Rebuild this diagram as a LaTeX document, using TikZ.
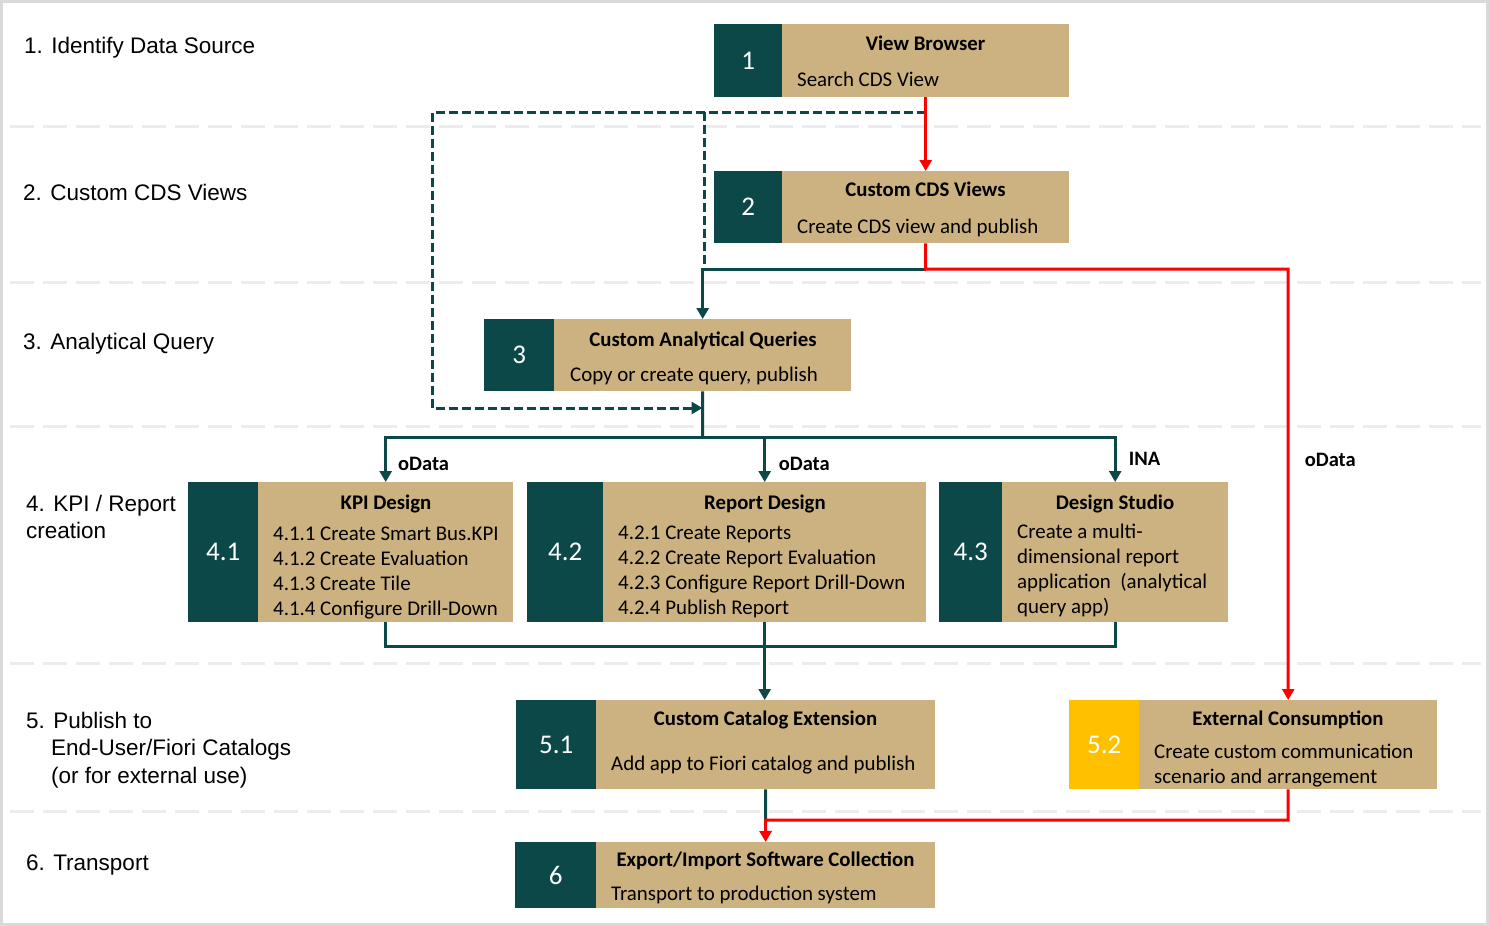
\documentclass[tikz,border=0pt]{standalone}
\usepackage{fontspec}
\setmainfont{Carlito}
\newfontfamily\arialf{Liberation Sans}
\usetikzlibrary{arrows.meta}
\definecolor{teal0}{RGB}{13,72,73}
\definecolor{tan0}{RGB}{203,178,128}
\definecolor{gold0}{RGB}{255,192,0}
\definecolor{red0}{RGB}{255,0,0}
\definecolor{sep0}{RGB}{236,236,236}
\definecolor{frame0}{RGB}{217,217,217}
\begin{document}
\begin{tikzpicture}[x=1pt,y=-1pt,
  numbox/.style={fill=teal0, text=white, inner sep=0, anchor=north west, font=\fontsize{27}{30}\selectfont},
  goldbox/.style={numbox, fill=gold0},
  tanbox/.style={fill=tan0, inner sep=0, anchor=north west},
  ttl/.style={anchor=base, font=\bfseries\fontsize{20.8}{24}\selectfont, inner sep=0},
  txt/.style={anchor=base west, font=\fontsize{20.9}{24}\selectfont, inner sep=0},
  sec/.style={anchor=base west, font=\arialf\fontsize{22.5}{27}\selectfont, inner sep=0},
  lbl/.style={anchor=base west, font=\bfseries\fontsize{20.5}{24}\selectfont, inner sep=0},
  flow/.style={draw=teal0, line width=3pt},
  dflow/.style={draw=teal0, line width=3pt, dash pattern=on 9pt off 4pt},
  redflow/.style={draw=red0, line width=3pt},
  tip/.style={-{Triangle[width=12pt,length=11pt]}},
  sepline/.style={draw=sep0, line width=3pt, dash pattern=on 24pt off 9pt},
]
\useasboundingbox (0,0) rectangle (1489,926);
\fill[white] (0,0) rectangle (1489,926);
\draw[frame0, line width=3pt] (1.5,1.5) rectangle (1487.5,924.5);

% separators
\foreach \yy in {126.5,282.5,426,663,811.5}{
  \draw[sepline] (10,\yy) -- (1481,\yy);
}

% section labels
\node[sec] (l1) at (24,53.3) {1. Identify Data Source};
\node[sec] (l2) at (23,200) {2. Custom CDS Views};
\node[sec] (l3) at (23,349) {3. Analytical Query};
\node[sec] (l4a) at (26,511) {4. KPI / Report};
\node[sec] (l4b) at (26,538.5) {creation};
\node[sec] (l5a) at (26,728.3) {5. Publish to};
\node[sec] (l5b) at (51,755) {End-User/Fiori Catalogs};
\node[sec] (l5c) at (51,783) {(or for external use)};
\node[sec] (l6) at (26,870) {6. Transport};

% box 1
\node[numbox, minimum width=68, minimum height=73] (n1) at (714,24) {1};
\node[tanbox, minimum width=287, minimum height=73] (b1) at (782,24) {};
\node[ttl] (t1) at (925.5,50.5) {View Browser};
\node[txt] (s1) at (797,86.5) {Search CDS View};

% box 2
\node[numbox, minimum width=68, minimum height=72] (n2) at (714,171) {2};
\node[tanbox, minimum width=287, minimum height=72] (b2) at (782,171) {};
\node[ttl] (t2) at (925.5,196.5) {Custom CDS Views};
\node[txt] (s2) at (797,233) {Create CDS view and publish};

% box 3
\node[numbox, minimum width=70, minimum height=72] (n3) at (484,319) {3};
\node[tanbox, minimum width=297, minimum height=72] (b3) at (554,319) {};
\node[ttl] (t3) at (703,346.5) {Custom Analytical Queries};
\node[txt] (s3) at (570,381.5) {Copy or create query, publish};

% box 4.1
\node[numbox, minimum width=70, minimum height=140] (n41) at (188,482) {4.1};
\node[tanbox, minimum width=255, minimum height=140] (b41) at (258,482) {};
\node[ttl] (t41) at (386,509.5) {KPI Design};
\node[txt] (s411) at (273,540.7) {4.1.1 Create Smart Bus.KPI};
\node[txt] (s412) at (273,565.7) {4.1.2 Create Evaluation};
\node[txt] (s413) at (273,590.7) {4.1.3 Create Tile};
\node[txt] (s414) at (273,615.7) {4.1.4 Configure Drill-Down};

% box 4.2
\node[numbox, minimum width=76, minimum height=140] (n42) at (527,482) {4.2};
\node[tanbox, minimum width=323, minimum height=140] (b42) at (603,482) {};
\node[ttl] (t42) at (765,509.5) {Report Design};
\node[txt] (s421) at (618,539.3) {4.2.1 Create Reports};
\node[txt] (s422) at (618,564.3) {4.2.2 Create Report Evaluation};
\node[txt] (s423) at (618,589.3) {4.2.3 Configure Report Drill-Down};
\node[txt] (s424) at (618,614.3) {4.2.4 Publish Report};

% box 4.3
\node[numbox, minimum width=63, minimum height=140] (n43) at (939,482) {4.3};
\node[tanbox, minimum width=226, minimum height=140] (b43) at (1002,482) {};
\node[ttl] (t43) at (1115,509.3) {Design Studio};
\node[txt] (s431) at (1017,538.3) {Create a multi-};
\node[txt] (s432) at (1017,563.3) {dimensional report};
\node[txt] (s433) at (1017,588.3) {application~ (analytical};
\node[txt] (s434) at (1017,613.3) {query app)};

% box 5.1
\node[numbox, minimum width=80, minimum height=89] (n51) at (516,700) {5.1};
\node[tanbox, minimum width=339, minimum height=89] (b51) at (596,700) {};
\node[ttl] (t51) at (765.5,725) {Custom Catalog Extension};
\node[txt] (s51) at (611,770) {Add app to Fiori catalog and publish};

% box 5.2
\node[goldbox, minimum width=70, minimum height=89] (n52) at (1069,700) {5.2};
\node[tanbox, minimum width=298, minimum height=89] (b52) at (1139,700) {};
\node[ttl] (t52) at (1288,725) {External Consumption};
\node[txt] (s521) at (1154,758.3) {Create custom communication};
\node[txt] (s522) at (1154,783) {scenario and arrangement};

% box 6
\node[numbox, minimum width=81, minimum height=66] (n6) at (515,842) {6};
\node[tanbox, minimum width=339, minimum height=66] (b6) at (596,842) {};
\node[ttl] (t6) at (765.5,866.7) {Export/Import Software Collection};
\node[txt] (s6) at (611,900.7) {Transport to production system};

% coordinates
\coordinate (d0) at (925.5,112);
\coordinate (d1) at (432,112);
\coordinate (d2) at (432,408);
\coordinate (d3) at (702.5,408);
\coordinate (d4) at (704,112);
\coordinate (d5) at (704,269);
\coordinate (j2) at (925.5,269);
\coordinate (h0) at (702.5,437);
\coordinate (h1) at (764.5,646);
\coordinate (j6) at (765.5,820);

% dashed teal
\draw[dflow, tip] (d0) -- (d1) -- (d2) -- (d3);
\draw[dflow] (d4) -- (d5);

% solid teal
\draw[flow, tip] (j2) -| (b3.north);
\draw[flow] (b3.south) -- (h0);
\draw[flow, tip] (h0) -| (b41.north);
\draw[flow, tip] (h0) -| (b43.north);
\draw[flow, tip] (b42.north |- h0) -- (b42.north);
\draw[flow] (b41.south) |- (h1) -| (b43.south);
\draw[flow, tip] (b42.south) -- (b42.south |- b51.north);
\draw[flow] (b51.south) -- (j6);

% red
\draw[redflow, tip] (b1.south) -- (b2.north);
\draw[redflow, tip] (b2.south) -- (j2) -| (b52.north);
\draw[redflow, tip] (b52.south) |- (j6) -- (b6.north);

% labels
\node[lbl] (o1) at (398,470) {oData};
\node[lbl] (o2) at (778.6,470) {oData};
\node[lbl] (o3) at (1128.6,465) {INA};
\node[lbl] (o4) at (1304.6,466.7) {oData};
\end{tikzpicture}
\end{document}
